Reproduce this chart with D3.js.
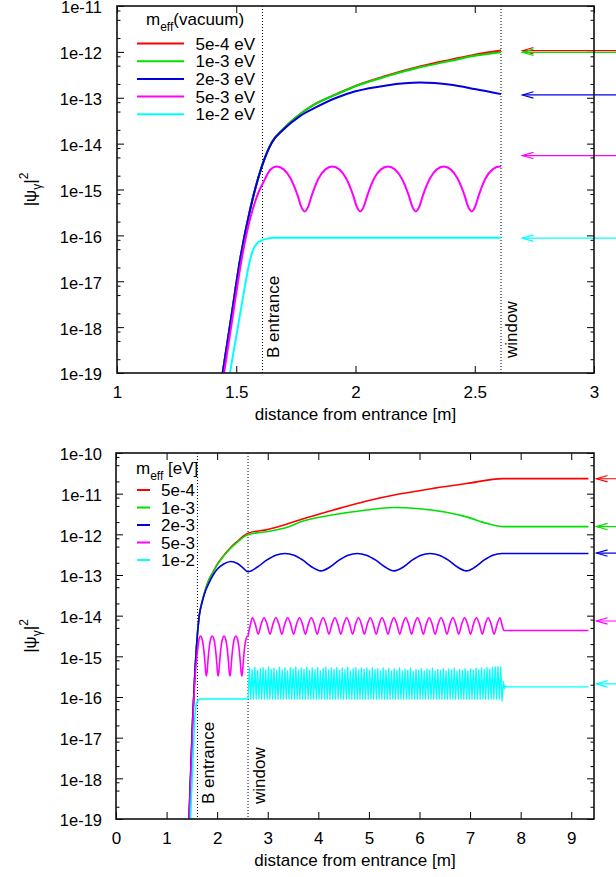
<!DOCTYPE html>
<html><head><meta charset="utf-8">
<script src="https://cdn.jsdelivr.net/npm/d3@7"></script>
<style>
body{margin:0;background:#fff}
svg{display:block}
text{font-family:"Liberation Sans",Arial,Helvetica,sans-serif;fill:#000}
</style>
</head><body>
<svg id="chart" width="616" height="877"></svg>
<script>
// ---------------- data ----------------
const seriesColors = ["#ff0000", "#00e000", "#0000e0", "#ff00ff", "#00ffff"];
const legendTopLabels = ["5e-4 eV", "1e-3 eV", "2e-3 eV", "5e-3 eV", "1e-2 eV"];
const legendBotLabels = ["5e-4", "1e-3", "2e-3", "5e-3", "1e-2"];

const xTicksTop = [1, 1.5, 2, 2.5, 3];
const xTickLabelsTop = ["1", "1.5", "2", "2.5", "3"];
const yTicksTop = [1e-19, 1e-18, 1e-17, 1e-16, 1e-15, 1e-14, 1e-13, 1e-12, 1e-11];
const yTickLabelsTop = ["1e-19", "1e-18", "1e-17", "1e-16", "1e-15", "1e-14", "1e-13", "1e-12", "1e-11"];
const xTicksBot = [0, 1, 2, 3, 4, 5, 6, 7, 8, 9];
const xTickLabelsBot = ["0", "1", "2", "3", "4", "5", "6", "7", "8", "9"];
const yTicksBot = [1e-19, 1e-18, 1e-17, 1e-16, 1e-15, 1e-14, 1e-13, 1e-12, 1e-11, 1e-10];
const yTickLabelsBot = ["1e-19", "1e-18", "1e-17", "1e-16", "1e-15", "1e-14", "1e-13", "1e-12", "1e-11", "1e-10"];
const minorMantissas = [2, 5, 8];

const markerX = [1.61, 2.61];
const markerLabels = ["B entrance", "window"];

// common rise (vacuum region, before window)
const riseRedGreen = [[1.42,1.6e-20],[1.443,1e-19],[1.48,1.78e-18],[1.516,2.95e-17],[1.558,3.63e-16],[1.607,3.16e-15],[1.649,1.07e-14],[1.697,2.09e-14],[1.767,4.37e-14],[1.837,7.59e-14]];
const redVacuum = [[1.92,1.2e-13],[2.0,1.82e-13],[2.13,3.02e-13],[2.27,4.79e-13],[2.4,6.76e-13],[2.5,8.71e-13],[2.61,1.07e-12]];
const greenVacuum = [[1.92,1.18e-13],[2.0,1.78e-13],[2.13,2.92e-13],[2.27,4.6e-13],[2.4,6.4e-13],[2.5,8.2e-13],[2.61,9.8e-13]];
const blueVacuum = [[1.42,1.6e-20],[1.443,1e-19],[1.48,1.78e-18],[1.516,2.95e-17],[1.558,3.63e-16],[1.607,3.16e-15],[1.649,1.05e-14],[1.697,2.0e-14],[1.767,3.98e-14],[1.837,6.31e-14],[1.92,1.0e-13],[2.0,1.38e-13],[2.13,1.86e-13],[2.27,2.14e-13],[2.4,1.91e-13],[2.5,1.55e-13],[2.61,1.2e-13]];
const magentaVacuum = [[1.42,1e-20],[1.449,1e-19],[1.49,2.5e-18],[1.52,2.5e-17],[1.56,2.5e-16],[1.592,8.3e-16],[1.62,1.66e-15],[1.641,2.63e-15],
 [1.670,3.16e-15],[1.699,2.75e-15],[1.728,1.74e-15],[1.758,7.24e-16],[1.772,4.27e-16],[1.787,3.31e-16],[1.802,4.27e-16],[1.816,7.24e-16],[1.845,1.74e-15],[1.874,2.75e-15],
 [1.903,3.16e-15],[1.932,2.75e-15],[1.961,1.74e-15],[1.991,7.24e-16],[2.005,4.27e-16],[2.020,3.31e-16],[2.035,4.27e-16],[2.049,7.24e-16],[2.078,1.74e-15],[2.107,2.75e-15],
 [2.136,3.16e-15],[2.165,2.75e-15],[2.194,1.74e-15],[2.224,7.24e-16],[2.238,4.27e-16],[2.253,3.31e-16],[2.268,4.27e-16],[2.282,7.24e-16],[2.312,1.74e-15],[2.341,2.75e-15],
 [2.370,3.16e-15],[2.399,2.75e-15],[2.428,1.74e-15],[2.458,7.24e-16],[2.472,4.27e-16],[2.487,3.31e-16],[2.502,4.27e-16],[2.516,7.24e-16],[2.545,1.74e-15],[2.575,2.75e-15],
 [2.604,3.16e-15],[2.61,3.16e-15]];
const cyanVacuum = [[1.45,1.26e-20],[1.474,1e-19],[1.50,6.3e-19],[1.53,5.0e-18],[1.558,2.95e-17],[1.572,5.0e-17],[1.588,6.8e-17],[1.607,7.8e-17],[1.63,8.5e-17],[1.66,8.9e-17],[2.0,8.9e-17],[2.61,8.9e-17]];

// gas region (after window), lower panel
const redGas = [[3.0,1.32e-12],[3.4,1.82e-12],[3.8,2.63e-12],[4.3,3.98e-12],[4.96,6.61e-12],[5.6,9.77e-12],[6.27,1.35e-11],[6.93,1.78e-11],[7.65,2.34e-11],[9.34,2.34e-11]];
const greenGas = [[3.0,1.17e-12],[3.4,1.51e-12],[3.64,2.0e-12],[4.3,3.02e-12],[4.96,3.98e-12],[5.48,4.57e-12],[6.0,4.27e-12],[6.5,3.55e-12],[6.93,2.69e-12],[7.33,1.86e-12],[7.66,1.55e-12],[9.34,1.55e-12]];
const blueGas = [[2.797,1.57e-13],[2.978,2.32e-13],[3.159,3.08e-13],[3.34,3.39e-13],[3.522,3.08e-13],[3.695,2.32e-13],[3.872,1.57e-13],[4.05,1.26e-13],[4.23,1.57e-13],[4.41,2.32e-13],[4.59,3.08e-13],[4.77,3.39e-13],[4.95,3.08e-13],[5.135,2.32e-13],[5.32,1.57e-13],[5.5,1.26e-13],[5.68,1.57e-13],[5.855,2.32e-13],[6.03,3.08e-13],[6.21,3.39e-13],[6.39,3.08e-13],[6.57,2.32e-13],[6.75,1.57e-13],[6.93,1.26e-13],[7.1,1.57e-13],[7.275,2.32e-13],[7.45,3.08e-13],[7.63,3.39e-13],[9.34,3.39e-13]];
const magentaGas = [[2.63,4.3e-15],[2.66,6.2e-15],
 [2.695,8.9e-15],[2.753,6.2e-15],[2.812,3.5e-15],[2.870,6.2e-15],[2.928,8.9e-15],[2.986,6.2e-15],[3.045,3.5e-15],[3.103,6.2e-15],
 [3.161,8.9e-15],[3.220,6.2e-15],[3.278,3.5e-15],[3.336,6.2e-15],[3.395,8.9e-15],[3.453,6.2e-15],[3.511,3.5e-15],[3.570,6.2e-15],
 [3.628,8.9e-15],[3.686,6.2e-15],[3.745,3.5e-15],[3.803,6.2e-15],[3.861,8.9e-15],[3.919,6.2e-15],[3.978,3.5e-15],[4.036,6.2e-15],
 [4.094,8.9e-15],[4.152,6.2e-15],[4.211,3.5e-15],[4.269,6.2e-15],[4.327,8.9e-15],[4.386,6.2e-15],[4.444,3.5e-15],[4.502,6.2e-15],
 [4.561,8.9e-15],[4.619,6.2e-15],[4.677,3.5e-15],[4.736,6.2e-15],[4.794,8.9e-15],[4.852,6.2e-15],[4.910,3.5e-15],[4.969,6.2e-15],
 [5.027,8.9e-15],[5.085,6.2e-15],[5.144,3.5e-15],[5.202,6.2e-15],[5.260,8.9e-15],[5.318,6.2e-15],[5.377,3.5e-15],[5.435,6.2e-15],
 [5.493,8.9e-15],[5.552,6.2e-15],[5.610,3.5e-15],[5.668,6.2e-15],[5.727,8.9e-15],[5.785,6.2e-15],[5.843,3.5e-15],[5.901,6.2e-15],
 [5.960,8.9e-15],[6.018,6.2e-15],[6.076,3.5e-15],[6.134,6.2e-15],[6.193,8.9e-15],[6.251,6.2e-15],[6.309,3.5e-15],[6.368,6.2e-15],
 [6.426,8.9e-15],[6.484,6.2e-15],[6.543,3.5e-15],[6.601,6.2e-15],[6.659,8.9e-15],[6.717,6.2e-15],[6.776,3.5e-15],[6.834,6.2e-15],
 [6.892,8.9e-15],[6.951,6.2e-15],[7.009,3.5e-15],[7.067,6.2e-15],[7.126,8.9e-15],[7.184,6.2e-15],[7.242,3.5e-15],[7.300,6.2e-15],
 [7.359,8.9e-15],[7.417,6.2e-15],[7.475,3.5e-15],[7.534,6.2e-15],[7.592,8.9e-15],[7.63,6.0e-15],[7.67,4.3e-15],[9.34,4.3e-15]];
const cyanGasX = [2.610,2.637,2.664,2.691,2.718,2.745,2.772,2.799,2.826,2.853,2.880,2.907,2.934,2.961,2.988,3.015,3.042,3.069,3.096,3.123,3.150,3.177,3.204,3.231,3.258,3.285,3.312,3.339,3.366,3.393,3.420,3.447,3.474,3.501,3.528,3.555,3.582,3.609,3.636,3.663,3.690,3.717,3.744,3.771,3.798,3.825,3.852,3.879,3.906,3.933,3.960,3.987,4.014,4.041,4.068,4.095,4.122,4.149,4.176,4.203,4.230,4.257,4.284,4.311,4.338,4.365,4.392,4.419,4.446,4.473,4.500,4.527,4.554,4.581,4.608,4.635,4.662,4.689,4.716,4.743,4.770,4.797,4.824,4.851,4.878,4.905,4.932,4.959,4.986,5.013,5.040,5.067,5.094,5.121,5.148,5.175,5.202,5.229,5.256,5.283,5.310,5.337,5.364,5.391,5.418,5.445,5.472,5.499,5.526,5.553,5.580,5.607,5.634,5.661,5.688,5.715,5.742,5.769,5.796,5.823,5.850,5.877,5.904,5.931,5.958,5.985,6.012,6.039,6.066,6.093,6.120,6.147,6.174,6.201,6.228,6.255,6.282,6.309,6.336,6.363,6.390,6.417,6.444,6.471,6.498,6.525,6.552,6.579,6.606,6.633,6.660,6.687,6.714,6.741,6.768,6.795,6.822,6.849,6.876,6.903,6.930,6.957,6.984,7.011,7.038,7.065,7.092,7.119,7.146,7.173,7.200,7.227,7.254,7.281,7.308,7.335,7.362,7.389,7.416,7.443,7.470,7.497,7.524,7.551,7.578,7.605,7.632,7.66,7.68,7.70,7.72,9.34];
const cyanGasY = [8.9e-17,5.2e-16,8.9e-17,4.7e-16,8.9e-17,5.4e-16,8.9e-17,4.5e-16,8.9e-17,5.0e-16,8.9e-17,5.3e-16,8.9e-17,4.6e-16,8.9e-17,5.5e-16,8.9e-17,4.8e-16,8.9e-17,5.1e-16,
 8.9e-17,4.5e-16,8.9e-17,5.4e-16,8.9e-17,4.7e-16,8.9e-17,5.2e-16,8.9e-17,4.4e-16,8.9e-17,5.3e-16,8.9e-17,4.9e-16,8.9e-17,5.5e-16,8.9e-17,4.6e-16,8.9e-17,5.1e-16,
 8.9e-17,4.8e-16,8.9e-17,5.4e-16,8.9e-17,4.5e-16,8.9e-17,5.2e-16,8.9e-17,4.7e-16,8.9e-17,5.3e-16,8.9e-17,4.4e-16,8.9e-17,5.0e-16,8.9e-17,5.4e-16,8.9e-17,4.6e-16,
 8.9e-17,5.1e-16,8.9e-17,4.8e-16,8.9e-17,5.3e-16,8.9e-17,4.5e-16,8.9e-17,5.2e-16,8.9e-17,4.7e-16,8.9e-17,5.4e-16,8.9e-17,4.4e-16,8.9e-17,5.0e-16,8.9e-17,5.3e-16,
 8.9e-17,4.6e-16,8.9e-17,5.1e-16,8.9e-17,4.8e-16,8.9e-17,5.2e-16,8.9e-17,4.5e-16,8.9e-17,5.3e-16,8.9e-17,4.7e-16,8.9e-17,5.0e-16,8.9e-17,4.4e-16,8.9e-17,5.2e-16,
 8.9e-17,4.6e-16,8.9e-17,5.1e-16,8.9e-17,4.3e-16,8.9e-17,5.0e-16,8.9e-17,4.5e-16,8.9e-17,5.2e-16,8.9e-17,4.4e-16,8.9e-17,4.9e-16,8.9e-17,4.6e-16,8.9e-17,5.1e-16,
 8.9e-17,4.3e-16,8.9e-17,4.8e-16,8.9e-17,4.5e-16,8.9e-17,5.0e-16,8.9e-17,4.4e-16,8.9e-17,4.9e-16,8.9e-17,4.6e-16,8.9e-17,5.1e-16,8.9e-17,4.3e-16,8.9e-17,4.8e-16,
 8.9e-17,4.5e-16,8.9e-17,5.0e-16,8.9e-17,4.4e-16,8.9e-17,4.9e-16,8.9e-17,4.6e-16,8.9e-17,5.1e-16,8.9e-17,4.3e-16,8.9e-17,4.8e-16,8.9e-17,4.5e-16,8.9e-17,5.0e-16,
 8.9e-17,4.4e-16,8.9e-17,4.9e-16,8.9e-17,4.6e-16,8.9e-17,5.1e-16,8.9e-17,4.7e-16,8.9e-17,5.2e-16,8.9e-17,4.8e-16,8.9e-17,5.3e-16,8.9e-17,4.9e-16,8.9e-17,5.4e-16,
 8.9e-17,5.5e-16,8.9e-17,5.6e-16,8.9e-17,5.5e-16,8.0e-17,2.4e-16,1.6e-16,1.9e-16,1.78e-16,1.78e-16];

// analytic expectation arrows (x of arrow head, value)
const arrowTopX = 2.7;
const arrowTopValues = [1.06e-12, 9.8e-13, 1.15e-13, 5.5e-15, 8.7e-17];
const arrowBotX = 9.5;
const arrowBotValues = [2.33e-11, 1.55e-12, 3.47e-13, 7.4e-15, 2.1e-16];

// ---------------- drawing ----------------
const svg = d3.select("#chart");

function drawPanel(p) {
  const x = d3.scaleLinear().domain(p.xDomain).range([p.l, p.r]);
  const y = d3.scaleLog().domain(p.yDomain).range([p.b, p.t]);
  const g = svg.append("g");
  const cid = "clip-" + p.id;
  svg.append("defs").append("clipPath").attr("id", cid)
    .append("rect").attr("x", p.l).attr("y", p.t).attr("width", p.r - p.l).attr("height", p.b - p.t);

  // minor ticks
  const minor = [];
  const e0 = Math.round(Math.log10(p.yDomain[0])), e1 = Math.round(Math.log10(p.yDomain[1]));
  for (let e = e0; e < e1; e++) minorMantissas.forEach(m => minor.push(m * Math.pow(10, e)));

  const strip = s => s.select(".domain").remove();
  const tickStyle = s => s.selectAll(".tick line").attr("stroke", "#000").attr("stroke-width", 1);

  g.append("g").attr("transform", `translate(${p.l},0)`)
    .call(d3.axisLeft(y).tickValues(p.yTicks).tickFormat((d, i) => p.yLabels[i]).tickSize(-7).tickPadding(p.l - 102))
    .call(strip).call(tickStyle)
    .call(s => s.selectAll("text").attr("font-size", 16.5).attr("dy", "0.42em").attr("font-family", "Liberation Sans, Arial, sans-serif").attr("fill", "#000"));
  g.append("g").attr("transform", `translate(${p.l},0)`)
    .call(d3.axisLeft(y).tickValues(minor).tickFormat("").tickSize(-3.5)).call(strip).call(tickStyle);
  g.append("g").attr("transform", `translate(${p.r},0)`)
    .call(d3.axisRight(y).tickValues(p.yTicks).tickFormat("").tickSize(-7)).call(strip).call(tickStyle);
  g.append("g").attr("transform", `translate(${p.r},0)`)
    .call(d3.axisRight(y).tickValues(minor).tickFormat("").tickSize(-3.5)).call(strip).call(tickStyle);
  g.append("g").attr("transform", `translate(0,${p.b})`)
    .call(d3.axisBottom(x).tickValues(p.xTicks).tickFormat((d, i) => p.xLabels[i]).tickSize(-7).tickPadding(13))
    .call(strip).call(tickStyle)
    .call(s => s.selectAll("text").attr("font-size", 17).attr("font-family", "Liberation Sans, Arial, sans-serif").attr("fill", "#000"));
  g.append("g").attr("transform", `translate(0,${p.t})`)
    .call(d3.axisTop(x).tickValues(p.xTicks).tickFormat("").tickSize(-7)).call(strip).call(tickStyle);

  // marker dotted lines + labels
  markerX.forEach((mx, i) => {
    g.append("line").attr("x1", x(mx)).attr("x2", x(mx)).attr("y1", p.t).attr("y2", p.b)
      .attr("stroke", "#000").attr("stroke-width", 1).attr("stroke-dasharray", "1,2");
    g.append("text").attr("transform", `translate(${x(mx) + 16.5},${p.b - 15}) rotate(-90)`)
      .attr("font-size", 17).text(markerLabels[i]);
  });

  // curves
  const line = d3.line().x(d => x(d[0])).y(d => y(d[1])).curve(d3.curveMonotoneX);
  const lineLin = d3.line().x(d => x(d[0])).y(d => y(d[1]));
  const cg = g.append("g").attr("clip-path", `url(#${cid})`).attr("fill", "none");
  p.series.forEach(s => {
    cg.append("path").attr("d", (s.linear ? lineLin : line)(s.data))
      .attr("stroke", s.color).attr("stroke-width", s.width || p.lw).attr("stroke-linejoin", "round");
  });

  // arrows
  p.arrows.forEach((v, i) => {
    const ax = x(p.arrowX), ay = y(v);
    g.append("line").attr("x1", ax).attr("x2", 640).attr("y1", ay).attr("y2", ay)
      .attr("stroke", seriesColors[i]).attr("stroke-width", 1.2);
    g.append("path").attr("d", `M${ax + 11},${ay - 3.2}L${ax},${ay}L${ax + 11},${ay + 3.2}`)
      .attr("fill", "none").attr("stroke", seriesColors[i]).attr("stroke-width", 1.2);
  });

  // border
  g.append("rect").attr("x", p.l).attr("y", p.t).attr("width", p.r - p.l).attr("height", p.b - p.t)
    .attr("fill", "none").attr("stroke", "#111").attr("stroke-width", 1.6);

  // axis titles
  g.append("text").attr("x", (p.l + p.r) / 2).attr("y", p.b + 47).attr("text-anchor", "middle")
    .attr("font-size", 17).text("distance from entrance [m]");
  const yl = g.append("text").attr("transform", `translate(36,${(p.t + p.b) / 2}) rotate(-90)`)
    .attr("text-anchor", "middle").attr("font-size", 17);
  yl.append("tspan").text("|ψ");
  yl.append("tspan").attr("dy", 5).attr("font-size", 12).text("γ");
  yl.append("tspan").attr("dy", -5).text("|");
  yl.append("tspan").attr("dy", -8).attr("font-size", 12).text("2");

  // legend
  const L = p.legend;
  const tt = g.append("text").attr("x", L.titleX).attr("y", L.titleY).attr("font-size", 17);
  tt.append("tspan").text("m");
  tt.append("tspan").attr("dy", 6).attr("font-size", 12).text("eff");
  tt.append("tspan").attr("dy", -6).text(L.titleRest);
  L.labels.forEach((lab, i) => {
    const ry = L.y0 + i * L.dy;
    g.append("line").attr("x1", L.x1).attr("x2", L.x2).attr("y1", ry).attr("y2", ry)
      .attr("stroke", seriesColors[i]).attr("stroke-width", 2);
    g.append("text").attr("x", L.textX).attr("y", ry + 6).attr("text-anchor", "end")
      .attr("font-size", 17).text(lab);
  });
}

drawPanel({
  id: "top", l: 117, r: 594, t: 6, b: 373, xDomain: [1, 3], yDomain: [1e-19, 1e-11],
  xTicks: xTicksTop, xLabels: xTickLabelsTop, yTicks: yTicksTop, yLabels: yTickLabelsTop, lw: 2,
  series: [
    { color: seriesColors[0], data: riseRedGreen.concat(redVacuum) },
    { color: seriesColors[1], data: riseRedGreen.concat(greenVacuum) },
    { color: seriesColors[2], data: blueVacuum },
    { color: seriesColors[3], data: magentaVacuum },
    { color: seriesColors[4], data: cyanVacuum }
  ],
  arrowX: arrowTopX, arrows: arrowTopValues,
  legend: { titleX: 146, titleY: 25, titleRest: "(vacuum)", x1: 137, x2: 184, textX: 255, y0: 43.5, dy: 17.7, labels: legendTopLabels }
});

drawPanel({
  id: "bot", l: 116, r: 594, t: 453, b: 819, xDomain: [0, 9.45], yDomain: [1e-19, 1e-10],
  xTicks: xTicksBot, xLabels: xTickLabelsBot, yTicks: yTicksBot, yLabels: yTickLabelsBot, lw: 1.6,
  series: [
    { color: seriesColors[0], data: riseRedGreen.concat(redVacuum, redGas) },
    { color: seriesColors[1], data: riseRedGreen.concat(greenVacuum, greenGas) },
    { color: seriesColors[2], data: blueVacuum.concat(blueGas) },
    { color: seriesColors[3], data: magentaVacuum.concat(magentaGas) },
    { color: seriesColors[4], data: cyanVacuum },
    { color: seriesColors[4], data: cyanGasX.map((v, i) => [v, cyanGasY[i]]), linear: true, width: 1.3 }
  ],
  arrowX: arrowBotX, arrows: arrowBotValues,
  legend: { titleX: 136, titleY: 474, titleRest: " [eV]", x1: 137, x2: 150, textX: 195, y0: 490, dy: 17.5, labels: legendBotLabels }
});
</script>
</body></html>
